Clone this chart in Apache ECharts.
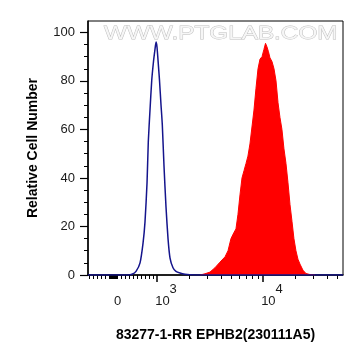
<!DOCTYPE html>
<html>
<head>
<meta charset="utf-8">
<script src="https://cdn.jsdelivr.net/npm/echarts@6/dist/echarts.min.js"></script>
<style>
html,body{margin:0;padding:0;background:#fff}
#main{width:364px;height:363px}
</style>
</head>
<body>
<div id="main"></div>
<script>
// x positions are in display units: 3 -> 10^3, 4 -> 10^4 (linear region near 0, like logicle)
const ctrlX = [2.349, 2.726, 2.764, 2.802, 2.840, 2.868, 2.887, 2.906, 2.918, 2.934, 2.950, 2.967, 2.981, 2.991, 3.000, 3.014, 3.024, 3.038, 3.050, 3.066, 3.085, 3.104, 3.123, 3.151, 3.179, 3.217, 3.264, 3.311, 3.406, 4.755]
const ctrlY = [0, 0, 0.3, 1.5, 5, 13, 22, 38, 55, 68, 80, 88, 93, 96, 94, 86, 80, 70, 62, 45, 28, 15, 7, 3, 1.5, 0.8, 0.3, 0.1, 0, 0]

const stainX = [3.406, 3.453, 3.500, 3.547, 3.594, 3.642, 3.670, 3.698, 3.726, 3.745, 3.764, 3.783, 3.802, 3.821, 3.840, 3.858, 3.877, 3.896, 3.915, 3.934, 3.953, 3.972, 3.991, 4.009, 4.024, 4.038, 4.052, 4.066, 4.085, 4.104, 4.123, 4.142, 4.160, 4.179, 4.198, 4.217, 4.236, 4.255, 4.274, 4.292, 4.311, 4.330, 4.349, 4.377, 4.406, 4.443, 4.491]
const stainY = [0, 0.5, 1.2, 3, 5.3, 7.5, 10, 15, 17.5, 19, 25, 33, 40, 43, 46, 49, 54, 61, 68, 77, 85, 89, 90, 93, 95.5, 94, 92, 89.5, 88, 85, 80, 71, 65, 60, 52, 46, 38, 29, 22, 15, 10, 6.5, 4.5, 2, 0.6, 0.2, 0]

const yTicks = [0, 20, 40, 60, 80, 100]
const yMinorTicks = [5, 10, 15, 25, 30, 35, 45, 50, 55, 65, 70, 75, 85, 90, 95]

// tick positions as raw fluorescence values
const xMajorRaw = [1000, 10000]
const xMinorRaw = [-700, -600, -500, -400, -300, -200, -180, -160, -140, -120, -100, -80, -60, -40, -20, 0,
  100, 200, 300, 400, 500, 600, 700, 800, 900,
  2000, 3000, 4000, 5000, 6000, 7000, 8000, 9000,
  20000, 30000, 40000, 50000]
const xLabelRaw = [0, 1000, 10000]
const xLabelText = ['{z|0}{e| }', '{b|10}{s|3}', '{b|10}{s|4}']

const X_MIN = 2.349, X_MAX = 4.755, Y_MAX = 104.7
const ZERO_POS = 2.6226

function toDisp(v) {
  if (v >= 1000) return Math.log10(v)
  return ZERO_POS + v * (3 - ZERO_POS) / 1000
}

const font = 'Liberation Sans, Arial, sans-serif'
const labelDisp = xLabelRaw.map(toDisp)

const chart = echarts.init(document.getElementById('main'))
const option = {
  animation: false,
  grid: { left: 88, right: 21, top: 21, bottom: 88, show: true, borderColor: '#000', borderWidth: 1 },
  graphic: [{
    type: 'text',
    x: 104, y: 25,
    scaleX: 1.35,
    style: { text: 'WWW.PTGLAB.COM', font: '18px ' + font, fill: '#f6f6f6', stroke: '#bdbdbd', lineWidth: 0.8, verticalAlign: 'top' },
    z: 10
  }],
  xAxis: [
    {
      type: 'value', min: X_MIN, max: X_MAX, position: 'bottom',
      axisLine: { show: true, lineStyle: { color: '#000', width: 1.5 } },
      axisTick: { show: true, customValues: xMajorRaw.map(toDisp), length: 7, lineStyle: { color: '#000', width: 1.5 } },
      axisLabel: {
        customValues: labelDisp, margin: 8, color: '#1a1a1a', fontFamily: font, fontSize: 13,
        formatter: (val) => {
          for (let i = 0; i < labelDisp.length; i++) {
            if (Math.abs(labelDisp[i] - val) < 1e-6) return xLabelText[i]
          }
          return ''
        },
        rich: {
          z: { fontSize: 13, fontFamily: font, color: '#1a1a1a', padding: [0, 0, 0, 5] },
          b: { fontSize: 13, fontFamily: font, color: '#1a1a1a', padding: [0, 0, 0, 18] },
          s: { fontSize: 13, fontFamily: font, color: '#1a1a1a', padding: [0, 0, 24, 0] },
          e: { fontSize: 13, fontFamily: font, color: '#1a1a1a', padding: [0, 0, 24, 0] }
        }
      },
      splitLine: { show: false },
      name: '83277-1-RR EPHB2(230111A5)', nameLocation: 'middle', nameGap: 53,
      nameTextStyle: { fontFamily: font, fontSize: 14, fontWeight: 'bold', color: '#000' }
    },
    {
      type: 'value', min: X_MIN, max: X_MAX, position: 'bottom',
      axisLine: { show: false },
      axisTick: { show: true, customValues: xMinorRaw.map(toDisp), length: 4, lineStyle: { color: '#000', width: 1 } },
      axisLabel: { show: false },
      splitLine: { show: false }
    }
  ],
  yAxis: [
    {
      type: 'value', min: 0, max: Y_MAX, position: 'left',
      axisLine: { show: true, lineStyle: { color: '#000', width: 1.5 } },
      axisTick: { show: true, customValues: yTicks, length: 8, lineStyle: { color: '#000', width: 1.2 } },
      axisLabel: { customValues: yTicks, margin: 13, color: '#1a1a1a', fontFamily: font, fontSize: 13 },
      splitLine: { show: false },
      name: 'Relative Cell Number', nameLocation: 'middle', nameGap: 48, nameRotate: 90,
      nameTextStyle: { fontFamily: font, fontSize: 14, fontWeight: 'bold', color: '#000' }
    },
    {
      type: 'value', min: 0, max: Y_MAX, position: 'left',
      axisLine: { show: false },
      axisTick: { show: true, customValues: yMinorTicks, length: 4, lineStyle: { color: '#000', width: 1 } },
      axisLabel: { show: false },
      splitLine: { show: false }
    }
  ],
  series: [
    {
      name: 'stained', type: 'line', xAxisIndex: 0, yAxisIndex: 0,
      data: stainX.map((x, i) => [x, stainY[i]]),
      showSymbol: false,
      lineStyle: { color: '#ff0000', width: 1 },
      areaStyle: { color: '#ff0000', opacity: 1 },
      z: 2
    },
    {
      name: 'control', type: 'line', xAxisIndex: 0, yAxisIndex: 0,
      data: ctrlX.map((x, i) => [x, ctrlY[i]]),
      showSymbol: false,
      smooth: 0.2,
      lineStyle: { color: '#14148c', width: 1.5 },
      z: 3
    }
  ]
}
chart.setOption(option)
</script>
</body>
</html>
